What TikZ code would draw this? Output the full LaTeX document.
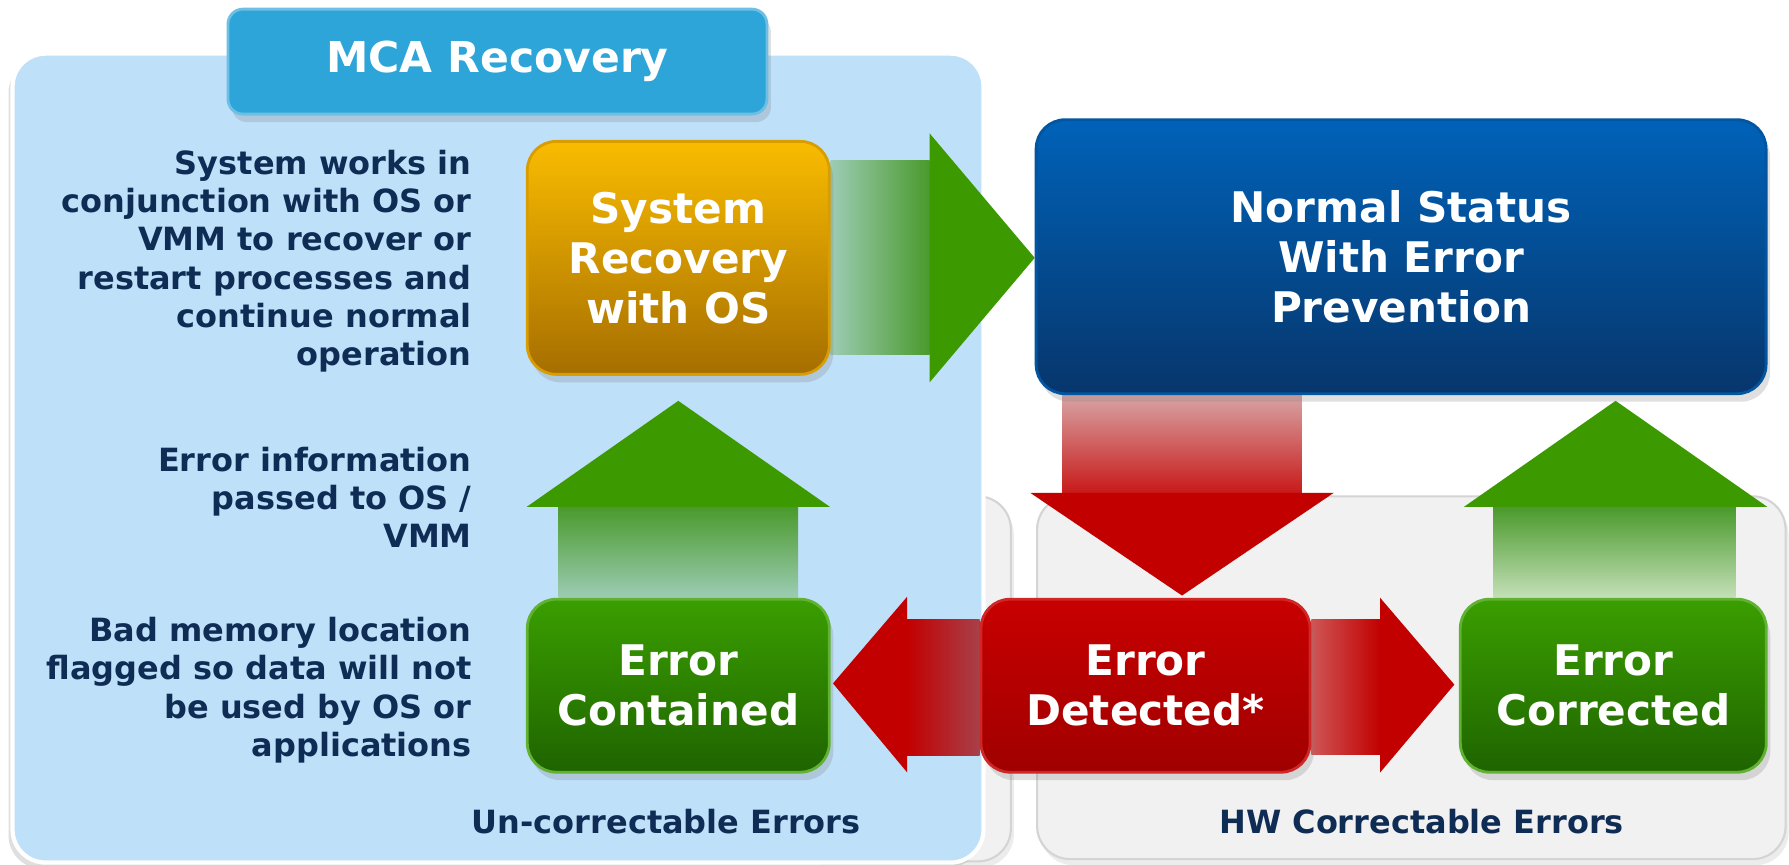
\documentclass[tikz,border=0pt]{standalone}
\usepackage{fontspec}
\setmainfont{DejaVu Sans}
\usepackage{tikz}
\usetikzlibrary{calc}
\usetikzlibrary{shadows}
\usetikzlibrary{positioning}

\pgfdeclarelayer{panels}
\pgfdeclarelayer{arrows}
\pgfsetlayers{panels,arrows,main}

\definecolor{navy}{HTML}{0F2C55}
\definecolor{panelblue}{HTML}{BFE0F9}
\definecolor{panelgrey}{HTML}{F1F1F1}
\definecolor{tabblue}{HTML}{2EA5D8}
\definecolor{orangetop}{HTML}{F9BC00}
\definecolor{orangebot}{HTML}{A66E00}
\definecolor{bluetop}{HTML}{0062B8}
\definecolor{bluebot}{HTML}{07366C}
\definecolor{greentop}{HTML}{3A9E00}
\definecolor{greenbot}{HTML}{1F6400}
\definecolor{redtop}{HTML}{C80000}
\definecolor{redbot}{HTML}{A00000}
\definecolor{ghead}{HTML}{3C9A00}
\definecolor{gdark}{HTML}{4A9A2C}
\definecolor{gpale}{HTML}{9CCCB4}
\definecolor{gpaler}{HTML}{C4E0B8}
\definecolor{rhead}{HTML}{C20000}
\definecolor{rpale}{HTML}{D8A4A4}
\definecolor{rmuted}{HTML}{A8404A}
\definecolor{rlight}{HTML}{CE5656}

\begin{document}
\begin{tikzpicture}[x=0.1141mm, y=-0.1141mm,
    box/.style={rounded corners=2.9mm, inner sep=0pt, align=center, text=white,
        font=\fontsize{12}{14.2}\selectfont\bfseries, line width=0.8pt,
        drop shadow={opacity=0.25, shadow xshift=0.4mm, shadow yshift=-0.8mm}},
    note/.style={anchor=east, align=right, text=navy, inner sep=0pt,
        font=\fontsize{9.1}{10.9}\selectfont\bfseries},
    tag/.style={text=navy, inner sep=0pt, font=\fontsize{9.1}{10.9}\selectfont\bfseries},
    greypanel/.style={fill=panelgrey, draw=black!17, line width=0.6pt, rounded corners=3.3mm,
        drop shadow={opacity=0.15, shadow xshift=0.3mm, shadow yshift=-0.6mm}},
    bluepanel/.style={fill=panelblue, draw=white, line width=1.2pt, rounded corners=3.3mm,
        drop shadow={opacity=0.25, shadow xshift=-0.4mm, shadow yshift=-0.6mm}},
    garrow/.style={fill=ghead},
    rarrow/.style={fill=rhead}]
    \useasboundingbox (0,0) rectangle (1568,758);

    % panels
    \begin{pgfonlayer}{panels}
        \path[greypanel] (700,435) rectangle (886,755);
        \path[greypanel] (909,435) rectangle (1565,753);
        \path[bluepanel] (11,47) rectangle (862,756);
    \end{pgfonlayer}

    \node[box, rounded corners=1.5mm, minimum width=53.9mm, minimum height=10.5mm, fill=tabblue,
        draw=tabblue!70!white, font=\fontsize{12.1}{14}\selectfont\bfseries] (mca) at (436,54) {MCA Recovery};

    % state boxes
    \node[box, minimum width=30.2mm, minimum height=23.3mm, top color=orangetop, bottom color=orangebot,
        draw=orangetop!60!orangebot] (sysrec) at (594.5,226) {System\\Recovery\\with OS};
    \node[box, minimum width=73mm, minimum height=27.4mm, top color=bluetop, bottom color=bluebot,
        draw=bluetop!70!bluebot] (normal) at (1228,225) {Normal Status\\With Error\\Prevention};
    \node[box, minimum width=30.2mm, minimum height=17.3mm, top color=greentop, bottom color=greenbot,
        draw=greentop!80!white] (contained) at (594.5,601) {Error\\Contained};
    \node[box, minimum width=32.9mm, minimum height=17.3mm, top color=redtop, bottom color=redbot,
        draw=redtop!85!white] (detected) at (1004,601) {Error\\Detected*};
    \node[box, minimum width=30.6mm, minimum height=17.3mm, top color=greentop, bottom color=greenbot,
        draw=greentop!80!white] (corrected) at (1414,601) {Error\\Corrected};

    % texts
    \node[note] (recnote) at (414,229) {System works in\\conjunction with OS or\\VMM to recover or\\restart processes and\\continue normal\\operation};
    \node[note] (passnote) at (414,436) {Error information\\passed to OS /\\VMM};
    \node[note] (flagnote) at (414,605) {Bad memory location\\flagged so data will not\\be used by OS or\\applications};
    \node[tag] (uncorr) at (584,720) {Un-correctable Errors};
    \node[tag] (hwcorr) at (1246,720) {HW Correctable Errors};

    % block arrows
    \coordinate (rtip) at (sysrec.east -| normal.west);
    \coordinate (dtip) at ($(detected.north)+(32,-2)$);
    \coordinate (dtop) at (dtip |- normal.south);
    \coordinate (utip) at ($(corrected.north |- normal.south)+(2,5)$);
    \coordinate (ltip) at ($(sysrec.south)+(0,22)$);
    \coordinate (ctip) at ($(contained.east)+(2,-2)$);
    \coordinate (cbase) at (ctip -| detected.west);
    \coordinate (etip) at ($(corrected.west)+(-4,-1)$);
    \begin{pgfonlayer}{arrows}
        \shade[left color=gpale, right color=gdark] ($(sysrec.east)+(0,-85)$) rectangle ($(rtip)+(-92,85)$);
        \fill[garrow] ($(rtip)+(-92,-109)$) -- (rtip) -- ($(rtip)+(-92,109)$) -- cycle;

        \shade[top color=rpale, bottom color=rhead!90!white] ($(dtop)+(-105,0)$) rectangle ($(dtip)+(105,-90)$);
        \fill[rarrow] ($(dtip)+(-133,-90)$) -- (dtip) -- ($(dtip)+(133,-90)$) -- cycle;

        \shade[top color=gdark, bottom color=gpaler] ($(corrected.north)+(-105,0)$) rectangle ($(utip)+(105,93)$);
        \fill[garrow] ($(utip)+(-133,93)$) -- (utip) -- ($(utip)+(133,93)$) -- cycle;

        \shade[top color=gdark, bottom color=gpale] ($(contained.north)+(-105,0)$) rectangle ($(ltip)+(105,93)$);
        \fill[garrow] ($(ltip)+(-133,93)$) -- (ltip) -- ($(ltip)+(133,93)$) -- cycle;

        \shade[left color=rhead, right color=rmuted] ($(ctip)+(65,-56)$) rectangle ($(cbase)+(0,63)$);
        \fill[rarrow] ($(ctip)+(65,-76)$) -- (ctip) -- ($(ctip)+(65,78)$) -- cycle;

        \shade[left color=rlight, right color=rhead] ($(detected.east)+(0,-58)$) rectangle ($(etip)+(-65,61)$);
        \fill[rarrow] ($(etip)+(-65,-76)$) -- (etip) -- ($(etip)+(-65,77)$) -- cycle;
    \end{pgfonlayer}
\end{tikzpicture}
\end{document}
